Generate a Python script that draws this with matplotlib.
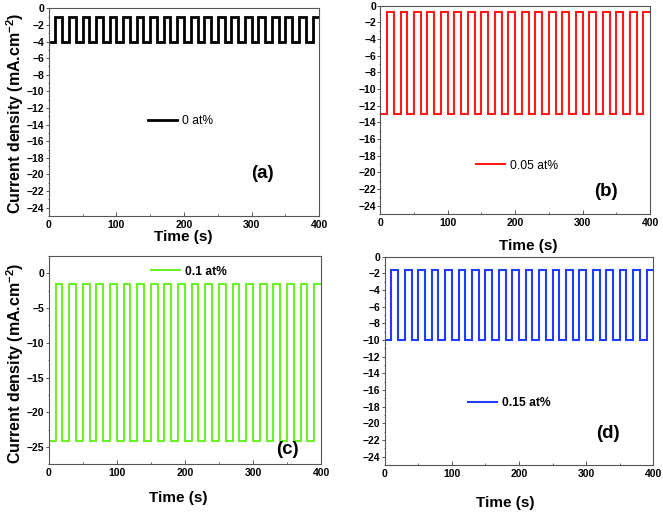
import matplotlib
matplotlib.use("Agg")
import matplotlib.pyplot as plt
from matplotlib.ticker import MultipleLocator

plt.rcParams["font.family"] = ["Liberation Sans", "DejaVu Sans"]
plt.rcParams["mathtext.fontset"] = "custom"
plt.rcParams["mathtext.rm"] = "Liberation Sans"
plt.rcParams["mathtext.bf"] = "Liberation Sans:bold"

# light on/off switching times (s)
switch_times = [0, 10, 20, 30, 40, 50, 60, 70, 80, 90, 100, 110, 120, 130, 140,
                150, 160, 170, 180, 190, 200, 210, 220, 230, 240, 250, 260, 270,
                280, 290, 300, 310, 320, 330, 340, 350, 360, 370, 380, 390, 400]

# current density levels (mA.cm-2): dark / illuminated
labels = ["0 at%", "0.05 at%", "0.1 at%", "0.15 at%"]
dark_levels = [-4.0, -13.0, -24.2, -10.0]
light_levels = [-1.0, -0.8, -1.5, -1.6]
colors = ["black", "#ff1a1a", "#6cf02a", "#1f3cff"]
panel_tags = ["(a)", "(b)", "(c)", "(d)"]

W, H = 663, 512
fig = plt.figure(figsize=(W / 100, H / 100), dpi=100)

# axes boxes in pixels: left, top, right, bottom
boxes = [(48.7, 8.3, 319.3, 216), (380.3, 5.7, 650, 214),
         (48.7, 256, 321, 464.3), (384.7, 256.7, 653.3, 465)]
ylims = [(-25, 0), (-25, 0), (-27.5, 2.5), (-25, 0)]
leg_pos = [(0.367, 0.458), (0.355, 0.232), (0.376, 0.925), (0.31, 0.298)]
leg_bold = [False, False, True, True]
tag_pos = [(262, 173), (606, 192), (287, 450), (607.7, 434)]
time_pos = [(183, 237), (528, 245.7), (178, 498), (505, 502.7)]
lws = [2.0, 1.5, 1.5, 1.5]

for i in range(4):
    l, t, r, b = boxes[i]
    ax = fig.add_axes([l / W, 1 - b / H, (r - l) / W, (b - t) / H])
    vals = [dark_levels[i] if k % 2 == 0 else light_levels[i]
            for k in range(len(switch_times) - 1)]
    ax.stairs(vals, switch_times, baseline=None, color=colors[i], lw=lws[i],
              label=labels[i])
    ax.set_xlim(0, 400)
    ax.set_ylim(*ylims[i])
    ax.xaxis.set_major_locator(MultipleLocator(100))
    ax.xaxis.set_minor_locator(MultipleLocator(50))
    if i == 2:
        ax.yaxis.set_major_locator(MultipleLocator(5))
        ax.yaxis.set_minor_locator(MultipleLocator(2.5))
    else:
        ax.yaxis.set_major_locator(MultipleLocator(2))
        ax.yaxis.set_minor_locator(MultipleLocator(1))
    for s in ax.spines.values():
        s.set_color("#555555")
        s.set_linewidth(0.8)
    ax.tick_params(axis="x", which="major", direction="in", length=3,
                   width=0.7, color="#555555", pad=3, labelsize=7.5)
    ax.tick_params(axis="x", which="minor", direction="in", length=1.5,
                   width=0.6, color="#555555")
    ax.tick_params(axis="y", which="major", direction="out", length=2,
                   width=0.7, color="#555555", pad=1, labelsize=7.5)
    ax.tick_params(axis="y", which="minor", direction="out", length=1,
                   width=0.6, color="#555555")
    for lab in ax.get_xticklabels() + ax.get_yticklabels():
        lab.set_fontweight("bold")
    ax.legend(loc="center left", bbox_to_anchor=leg_pos[i], frameon=False,
              borderpad=0, borderaxespad=0, handlelength=2.4,
              handletextpad=0.4,
              prop={"size": 8.7, "weight": "bold" if leg_bold[i] else "normal"})
    tx, ty = tag_pos[i]
    fig.text(tx / W, 1 - ty / H, panel_tags[i], ha="center", va="center",
             fontsize=13.5, fontweight="bold")
    tx, ty = time_pos[i]
    fig.text(tx / W, 1 - ty / H, "Time (s)", ha="center", va="center",
             fontsize=11, fontweight="bold")

ylab = r"Current density (mA.cm$^{\mathbf{-2}}$)"
fig.text(15 / W, 1 - 113 / H, ylab, rotation=90, ha="center", va="center",
         fontsize=11.5, fontweight="bold")
fig.text(15 / W, 1 - 363 / H, ylab, rotation=90, ha="center", va="center",
         fontsize=11.5, fontweight="bold")

fig.savefig("out.png", dpi=100)
